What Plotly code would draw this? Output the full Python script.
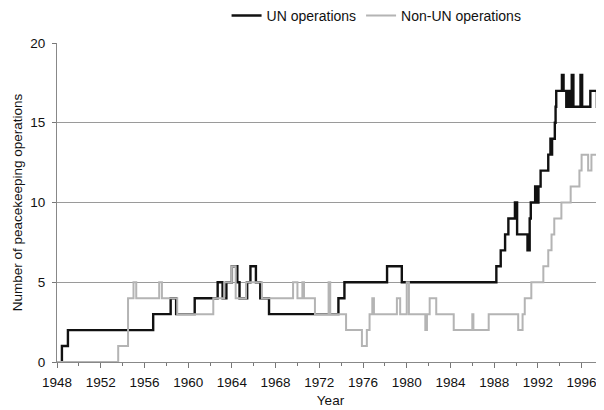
import plotly.graph_objects as go

# step change points (value holds until next point)
un_years = [1948.35, 1948.45, 1949.0, 1956.8, 1958.4, 1958.9, 1960.6, 1962.7, 1963.15, 1963.5,
            1964.0, 1964.5, 1964.7, 1965.4, 1965.7, 1966.2, 1966.6, 1967.4, 1973.75, 1974.3,
            1978.2, 1979.55, 1988.2, 1988.6, 1989.0, 1989.3, 1989.9, 1990.1, 1991.05, 1991.25,
            1991.35, 1991.75, 1991.9, 1992.05, 1992.25, 1992.95, 1993.15, 1993.2, 1993.3, 1993.55,
            1993.62, 1993.68, 1994.2, 1994.35, 1994.6, 1994.7, 1994.8, 1994.9, 1995.0, 1995.1,
            1995.25, 1995.9, 1996.05, 1996.8, 1997.4, 1997.5, 1997.6, 1997.7, 1997.8, 1997.9,
            1998.0]
un_ops = [0, 1, 2, 3, 4, 3, 4, 5, 4, 5,
          6, 5, 4, 5, 6, 5, 4, 3, 4, 5,
          6, 5, 6, 7, 8, 9, 10, 8, 7, 9,
          10, 11, 10, 11, 12, 13, 14, 13, 14, 15,
          16, 17, 18, 17, 16, 17, 16, 17, 16, 18,
          16, 18, 16, 17, 16, 17, 16, 15, 16, 15,
          15]

non_un_years = [1948.0, 1953.6, 1954.5, 1955.0, 1955.25, 1957.35, 1957.6, 1959.0, 1962.3, 1963.3,
                1964.0, 1964.35, 1965.3, 1966.75, 1969.6, 1970.0, 1970.45, 1970.6, 1971.6, 1972.85,
                1973.0, 1974.45, 1975.9, 1976.35, 1976.6, 1976.85, 1977.0, 1979.1, 1979.4, 1980.0,
                1980.2, 1981.7, 1981.85, 1982.1, 1982.7, 1984.3, 1986.0, 1986.1, 1987.5, 1990.2,
                1990.6, 1990.8, 1991.4, 1992.5, 1992.95, 1993.25, 1993.5, 1994.15, 1995.0, 1995.8,
                1996.0, 1996.6, 1996.9, 1997.7, 1997.8, 1998.0]
non_un_ops = [0, 1, 4, 5, 4, 5, 4, 3, 4, 5,
              6, 4, 5, 4, 5, 4, 5, 4, 3, 5,
              3, 2, 1, 2, 3, 4, 3, 4, 3, 5,
              3, 2, 3, 4, 3, 2, 3, 2, 3, 2,
              3, 4, 5, 6, 7, 8, 9, 10, 11, 12,
              13, 12, 13, 14, 15, 15]

x_ticks = list(range(1948, 1997, 4))
y_ticks = [0, 5, 10, 15, 20]

FONT = "Liberation Sans, Arial, sans-serif"

fig = go.Figure()
fig.add_trace(go.Scatter(x=un_years, y=un_ops, mode="lines", line_shape="hv",
                         name="UN operations", line=dict(color="#111111", width=2.4)))
fig.add_trace(go.Scatter(x=non_un_years, y=non_un_ops, mode="lines", line_shape="hv",
                         name="Non-UN operations", line=dict(color="#b4b4b4", width=2)))

# page body has an 8px margin, so the figure is sized to fit the window with it
fig.update_layout(
    width=596, height=402,
    margin=dict(l=49, r=0, t=35, b=48, autoexpand=False),
    plot_bgcolor="white", paper_bgcolor="white",
    font=dict(family=FONT, size=13.5, color="#111111"),
    legend=dict(orientation="h", x=0.31, xanchor="left", y=1.035, yanchor="bottom",
                font=dict(size=14), itemwidth=30, bgcolor="rgba(0,0,0,0)"),
    xaxis=dict(range=[1948, 1998.05], tickvals=x_ticks, ticks="outside", ticklen=5,
               tickcolor="#777777", showgrid=False, zeroline=False, automargin=False,
               showline=True, linecolor="#888888", linewidth=1, ticklabelstandoff=3,
               minor=dict(dtick=2, tick0=1948, ticks="outside", ticklen=3, tickcolor="#777777"),
               title=dict(text="Year", font=dict(size=13.5), standoff=6)),
    yaxis=dict(range=[0, 20], tickvals=y_ticks, ticks="outside", ticklen=4,
               tickcolor="#777777", showgrid=True, gridcolor="#9a9a9a", gridwidth=1,
               zeroline=False, showline=True, linecolor="#888888", linewidth=1, automargin=False,
               ticklabelstandoff=4,
               title=dict(text="Number of peacekeeping operations", font=dict(size=13.5), standoff=4)),
)

fig.write_html("out.html")
